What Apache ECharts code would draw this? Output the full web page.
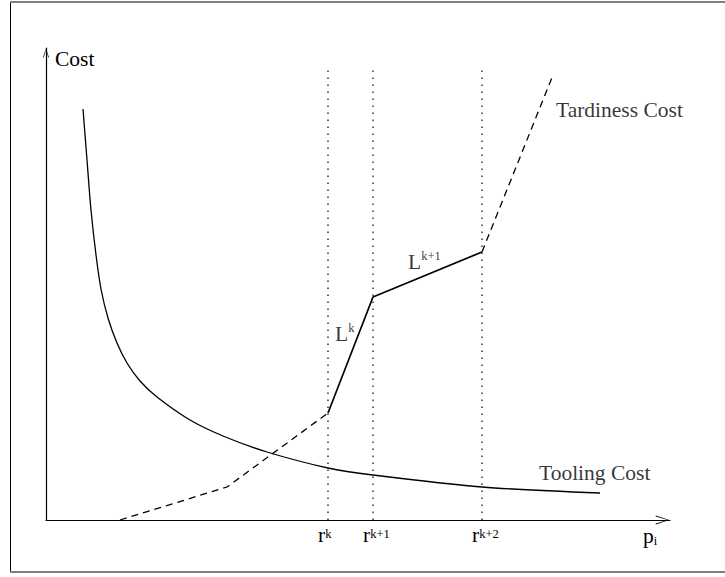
<!DOCTYPE html>
<html>
<head>
<meta charset="utf-8">
<script src="https://cdn.jsdelivr.net/npm/echarts@6/dist/echarts.min.js"></script>
<style>
html,body{margin:0;padding:0;background:#fff;}
#chart{width:725px;height:577px;}
</style>
</head>
<body>
<div id="chart"></div>
<script>
// ---- data (abstract units) ----
const xMax = 62.4;
const yMax = 47.2;

const toolingX = [3.7, 4.1, 4.5, 5.0, 5.5, 6.2, 7.1, 8.1, 9.4, 11.1, 14.4, 17.7, 22.1, 28.2, 32.7, 43.6, 55.4];
const toolingY = [41.1, 36.0, 31.0, 26.5, 23.1, 20.2, 17.7, 15.7, 13.9, 12.3, 10.0, 8.4, 6.8, 5.2, 4.5, 3.3, 2.7];

const tardLowX = [7.4, 18.1, 28.2];
const tardLowY = [0, 3.3, 10.7];
const tardMidX = [28.2, 32.7, 43.6];
const tardMidY = [10.7, 22.3, 26.8];
const tardHighX = [43.6, 50.7];
const tardHighY = [26.8, 44.5];

const rValues = [28.2, 32.7, 43.6];
const rTops = [45.5, 45.5, 45.3];
const rBase = 'r';
const rSup = ['k', 'k+1', 'k+2'];

const annoText = ['Tardiness Cost', 'Tooling Cost', 'L', 'L'];
const annoSup = ['', '', 'k', 'k+1'];
const annoX = [51.0, 49.3, 28.9, 36.2];
const annoY = [41.05, 4.75, 18.65, 25.85];

const yName = 'Cost';
const xNameBase = 'p';
const xNameSub = 'i';

// ---- build ----
const FONT = 'Liberation Serif';
const zip = (xs, ys) => xs.map((x, i) => [x, ys[i]]);

const dottedData = [];
rValues.forEach((x, i) => {
  if (i > 0) dottedData.push('-');
  dottedData.push([x, 0], [x, rTops[i]]);
});

const richBase = {
  b: { fontFamily: FONT, fontSize: 21.5, color: '#000' },
  s: { fontFamily: FONT, fontSize: 12.5, color: '#000', padding: [0, 0, 2, 0] },
  sl: { fontFamily: FONT, fontSize: 12.5, color: '#000', padding: [0, 0, 12, 0] },
  sub: { fontFamily: FONT, fontSize: 12.5, color: '#000', padding: [10, 0, 0, 0] }
};

const chart = echarts.init(document.getElementById('chart'), null, { renderer: 'svg' });
chart.setOption({
  animation: false,
  backgroundColor: '#fff',
  grid: { left: 46, right: 55, top: 48, bottom: 57, containLabel: false },
  xAxis: {
    type: 'value', min: 0, max: xMax,
    splitLine: { show: false },
    axisTick: { show: false },
    axisLine: {
      show: true, onZero: false,
      lineStyle: { color: '#000', width: 1.2 },
      symbol: ['none', 'path://M5 0 L10 15 L9 15 L5 2 L1 15 L0 15 Z'],
      symbolSize: [9, 15],
      symbolOffset: [0, -7.5]
    },
    axisLabel: {
      show: true,
      customValues: rValues,
      margin: 4,
      align: 'left',
      padding: [0, 0, 0, -10],
      formatter: function (v) {
        const i = rValues.indexOf(v);
        return i < 0 ? '' : '{b|' + rBase + '}{s|' + rSup[i] + '}';
      },
      rich: richBase
    },
    name: '{b|' + xNameBase + '}{sub|' + xNameSub + '}',
    nameLocation: 'end',
    nameGap: -27,
    nameTextStyle: { verticalAlign: 'top', padding: [4, 0, 0, 0], rich: richBase }
  },
  yAxis: {
    type: 'value', min: 0, max: yMax,
    splitLine: { show: false },
    axisTick: { show: false },
    axisLabel: { show: false },
    axisLine: {
      show: true,
      lineStyle: { color: '#000', width: 1.2 },
      symbol: ['none', 'path://M5 0 L10 15 L8.8 15 L5 2.5 L1.2 15 L0 15 Z'],
      symbolSize: [6, 10],
      symbolOffset: [0, -5]
    },
    name: yName,
    nameLocation: 'end',
    nameGap: -11,
    nameTextStyle: { fontFamily: FONT, fontSize: 21.5, color: '#000', align: 'left', verticalAlign: 'middle', padding: [0, 0, 0, 9] }
  },
  graphic: [
    { type: 'line', silent: true, shape: { x1: 10.5, y1: 1, x2: 10.5, y2: 573 }, style: { stroke: '#000', lineWidth: 1 } },
    { type: 'line', silent: true, shape: { x1: 10, y1: 2, x2: 725, y2: 2 }, style: { stroke: '#808080', lineWidth: 2 } },
    { type: 'line', silent: true, shape: { x1: 10, y1: 572, x2: 725, y2: 572 }, style: { stroke: '#808080', lineWidth: 2 } }
  ],
  series: [
    {
      name: 'Tooling Cost', type: 'line', data: zip(toolingX, toolingY),
      smooth: 0.3, showSymbol: false, silent: true,
      lineStyle: { color: '#000', width: 1.3 }
    },
    {
      name: 'Tardiness low', type: 'line', data: zip(tardLowX, tardLowY),
      showSymbol: false, silent: true,
      lineStyle: { color: '#000', width: 1.3, type: [7, 5] }
    },
    {
      name: 'Tardiness mid', type: 'line', data: zip(tardMidX, tardMidY),
      showSymbol: false, silent: true,
      lineStyle: { color: '#000', width: 1.7 }
    },
    {
      name: 'Tardiness high', type: 'line', data: zip(tardHighX, tardHighY),
      showSymbol: false, silent: true,
      lineStyle: { color: '#000', width: 1.3, type: [7, 5] }
    },
    {
      name: 'r lines', type: 'line', data: dottedData,
      connectNulls: false, showSymbol: false, silent: true,
      lineStyle: { color: '#333', width: 1.5, type: [1.5, 5.5] }
    },
    {
      name: 'annotations', type: 'scatter', symbolSize: 0, silent: true,
      data: annoX.map((x, i) => ({ value: [x, annoY[i]], idx: i })),
      label: {
        show: true, position: 'right', distance: 0,
        formatter: function (p) {
          const i = p.dataIndex;
          return '{b|' + annoText[i] + '}' + (annoSup[i] ? '{sl|' + annoSup[i] + '}' : '');
        },
        rich: richBase
      }
    }
  ]
});
</script>
</body>
</html>
